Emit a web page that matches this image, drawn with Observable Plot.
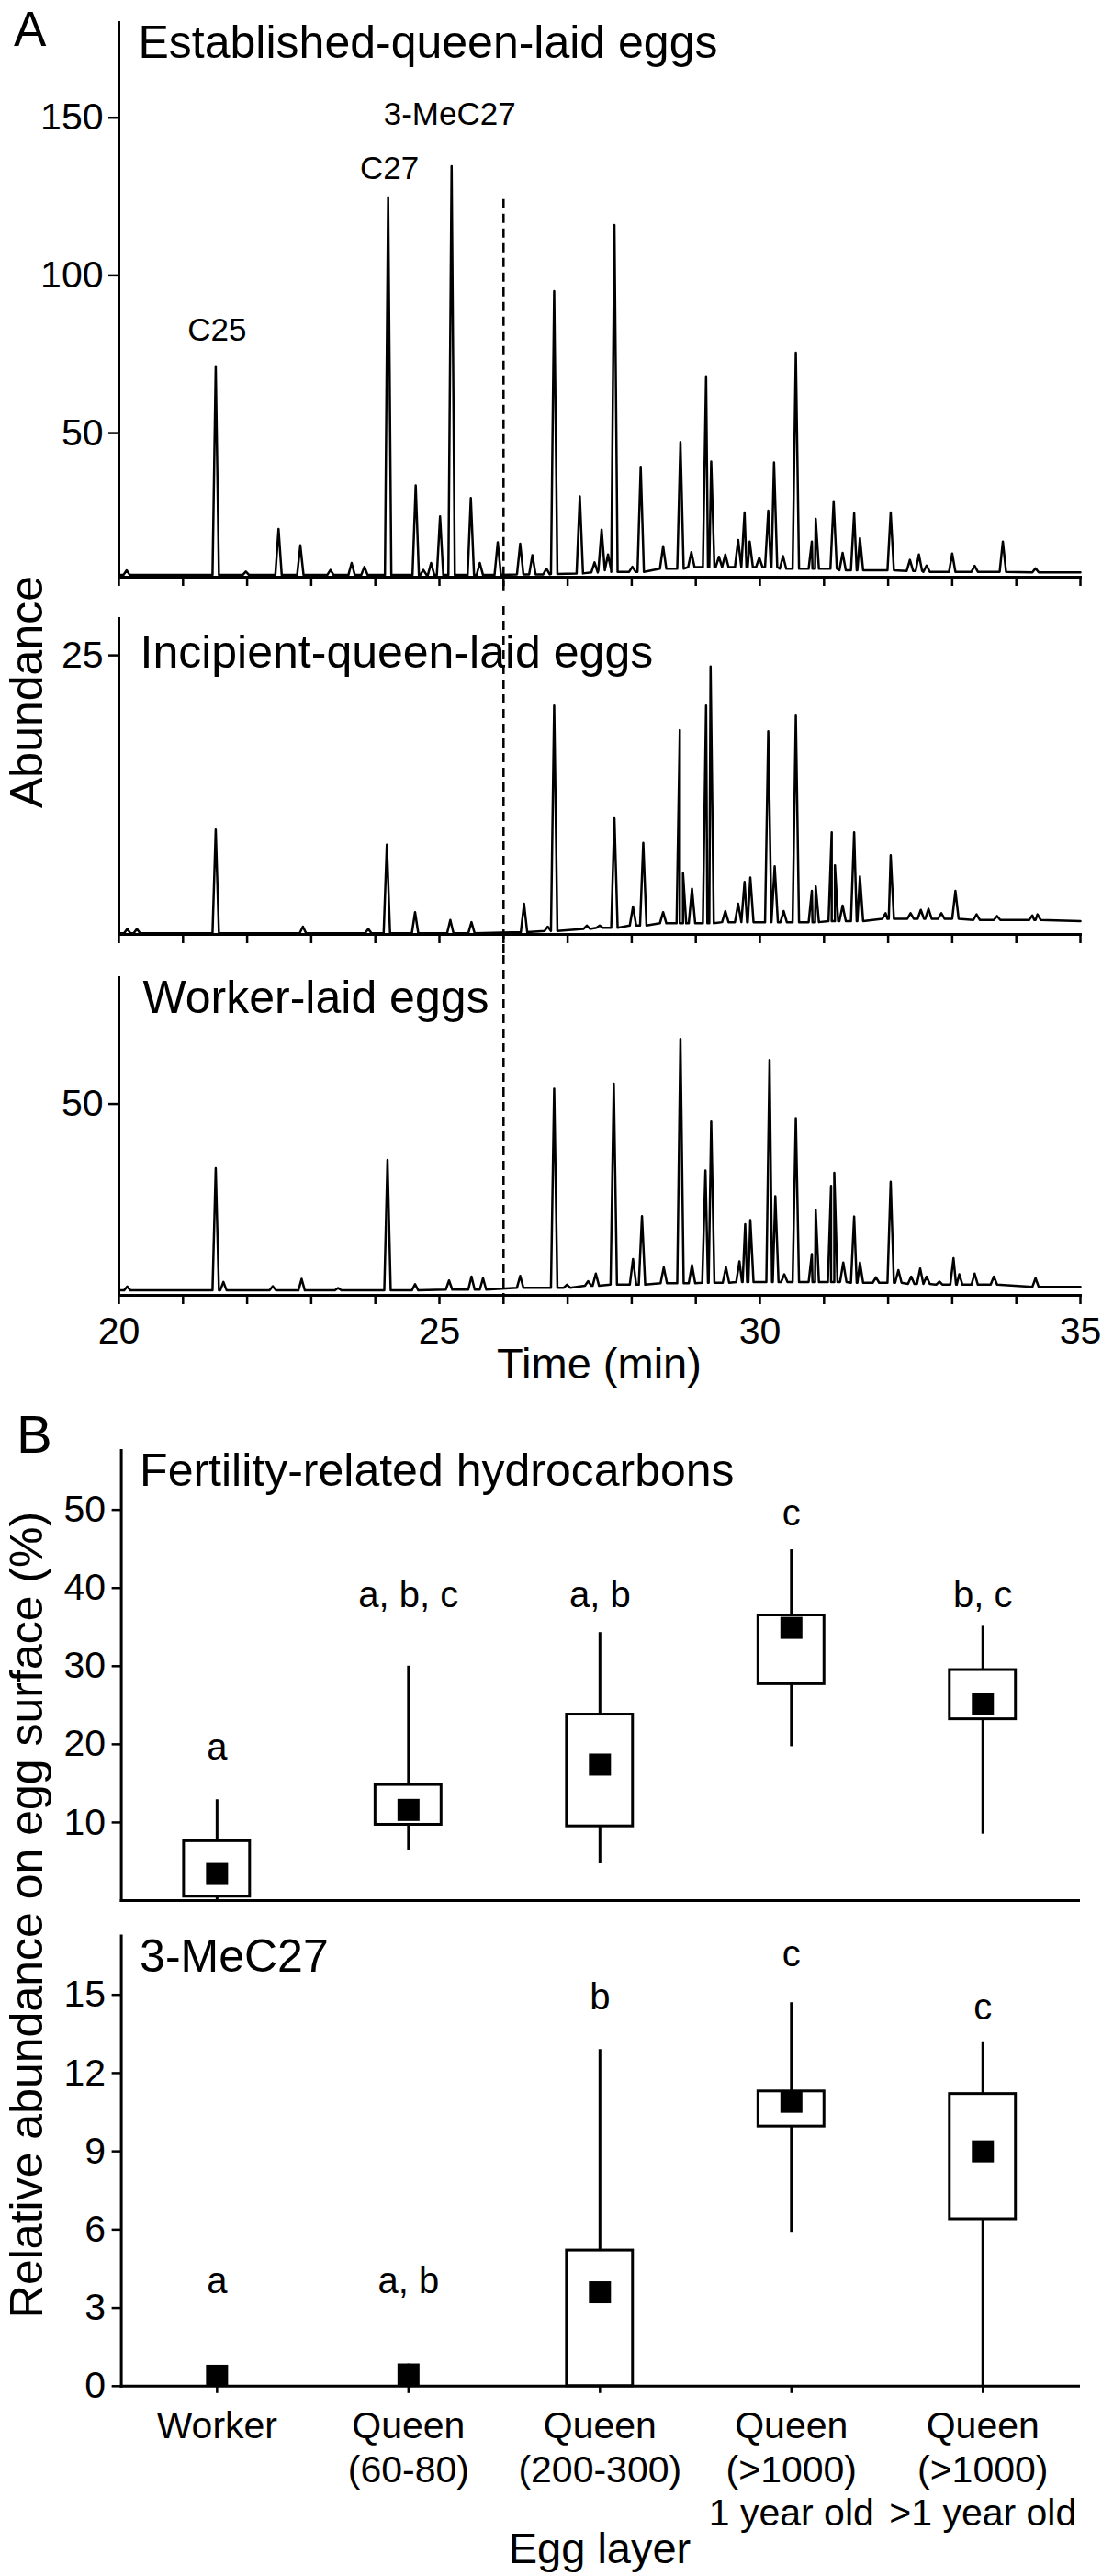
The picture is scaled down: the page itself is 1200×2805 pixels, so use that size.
<!DOCTYPE html>
<html><head><meta charset="utf-8">
<script src="https://cdn.jsdelivr.net/npm/d3@7"></script>
<script src="https://cdn.jsdelivr.net/npm/@observablehq/plot@0.6"></script>
<style>
body{margin:0;background:#fff}
#fig{position:relative;width:1200px;height:2805px;background:#fff;overflow:hidden;color:#000}
#fig svg{position:absolute;left:0}
</style>
</head><body><div id="fig"></div>
<script>
const FONT = '"Liberation Sans", Arial, Helvetica, sans-serif';

// ---------- Panel A: chromatograms ----------
const timeDomain = [20, 35];
const minuteTicks = [20,21,22,23,24,25,26,27,28,29,30,31,32,33,34,35];
const timeTickLabels = [20,25,30,35];
const dashedTime = [26];
const chromTitles = ["Established-queen-laid eggs","Incipient-queen-laid eggs","Worker-laid eggs"];
const peakNames = ["C25","C27","3-MeC27"];
const peakNameTimes = [21.53, 24.22, 25.16];
const peakNameLevels = [79.4, 130.5, 147.8];

// [time (min), apex abundance, local baseline]
const established = [
[20.12,6.5,5.0],[21.51,71.2,5.0],[21.98,6.1,5.0],[22.49,19.6,5.0],[22.83,14.4,5.0],[23.30,6.6,5.0],
[23.63,8.8,5.0],[23.83,7.6,5.0],[24.20,124.8,5.0],[24.63,33.4,5.0],[24.75,6.6,5.0],[24.87,8.8,5.0],
[25.01,23.6,5.0],[25.19,134.6,5.0],[25.49,29.4,5.0],[25.63,8.8,5.0],[25.91,15.4,5.0],[26.26,14.9,5.2],
[26.45,11.3,5.2],[26.67,7.0,5.2],[26.79,95.0,5.3],[27.19,29.9,5.5],[27.42,9.0,5.8],[27.53,19.4,6.5],
[27.63,11.5,6.5],[27.73,116.0,6.0],[28.01,7.6,6.0],[28.14,39.3,6.0],[28.49,14.1,7.0],[28.76,47.2,7.0],
[28.93,12.2,7.5],[29.16,68.0,7.5],[29.24,41.0,7.5],[29.36,10.8,7.5],[29.46,11.5,7.5],[29.66,16.1,7.5],
[29.76,24.8,7.5],[29.84,15.6,7.5],[29.99,10.5,7.5],[30.13,25.4,7.5],[30.22,40.7,7.5],[30.36,11.0,7.0],
[30.56,75.5,7.0],[30.81,15.6,7.0],[30.87,22.8,7.0],[31.15,28.4,7.0],[31.29,12.0,6.5],[31.47,24.6,6.5],
[31.56,16.7,6.5],[32.04,24.8,6.5],[32.34,9.8,6.3],[32.48,11.5,6.3],[32.60,8.0,6.0],[33.00,11.8,6.0],
[33.35,7.9,6.0],[33.79,15.6,6.0],[34.30,7.1,5.8]
];
const establishedEnds = [[20,5.0],[35,5.8]];

const incipient = [
[20.13,0.5,0.1],[20.28,0.5,0.1],[21.51,9.4,0.1],[22.87,0.7,0.1],[23.89,0.5,0.1],[24.18,8.05,0.1],
[24.62,2.0,0.1],[25.17,1.3,0.1],[25.50,1.1,0.1],[26.32,2.75,0.2],[26.69,0.7,0.3],[26.79,20.5,0.3],
[27.30,0.8,0.5],[27.50,0.8,0.6],[27.73,10.4,0.6],[28.02,2.5,0.8],[28.18,8.2,0.8],[28.49,2.0,1.0],
[28.75,18.3,1.0],[28.80,5.5,1.0],[28.94,4.1,1.0],[29.16,20.5,1.0],[29.23,24.0,1.0],[29.46,2.1,1.1],
[29.66,2.75,1.1],[29.76,4.7,1.1],[29.85,5.1,1.1],[30.13,18.2,1.1],[30.23,6.1,1.1],[30.37,2.1,1.1],
[30.56,19.6,1.1],[30.81,3.9,1.1],[30.87,4.3,1.1],[31.12,9.15,1.2],[31.17,6.2,1.2],[31.29,2.6,1.2],
[31.47,9.15,1.2],[31.56,5.2,1.2],[31.96,1.9,1.4],[32.04,7.1,1.4],[32.35,1.9,1.4],[32.51,2.2,1.4],
[32.63,2.3,1.4],[32.83,1.9,1.4],[33.05,3.9,1.4],[33.38,1.8,1.3],[33.70,1.65,1.3],[34.25,1.7,1.3],
[34.33,1.8,1.3]
];
const incipientEnds = [[20,0.1],[35,1.2]];

const workerLaid = [
[20.13,2.3,1.3],[21.51,33.2,1.3],[21.63,3.5,1.3],[22.40,2.4,1.3],[22.85,4.3,1.3],[23.42,1.9,1.3],
[24.19,35.4,1.3],[24.62,2.9,1.3],[25.15,3.9,1.5],[25.50,4.9,1.5],[25.68,4.5,1.5],[26.26,5.1,2.0],
[26.79,54.0,2.0],[26.99,2.8,2.0],[27.32,3.7,2.5],[27.44,5.7,2.5],[27.72,55.3,2.8],[28.02,9.5,2.8],
[28.16,20.7,2.8],[28.50,7.3,3.2],[28.76,67.0,3.2],[28.94,7.9,3.2],[29.15,32.6,3.3],[29.24,45.4,3.3],
[29.47,7.3,3.3],[29.68,8.9,3.5],[29.77,18.6,3.5],[29.85,19.7,3.5],[30.15,61.5,3.5],[30.24,25.9,3.5],
[30.38,5.5,3.5],[30.56,46.3,3.5],[30.81,10.8,3.5],[30.87,22.3,3.5],[31.11,28.6,3.5],[31.16,32.0,3.5],
[31.30,8.6,3.5],[31.47,20.6,3.3],[31.56,8.6,3.3],[31.81,4.7,3.3],[32.04,29.7,3.3],[32.16,6.6,3.3],
[32.36,4.9,3.0],[32.50,7.0,3.0],[32.60,4.9,3.0],[32.80,3.6,2.8],[33.02,9.7,2.8],[33.11,5.5,2.8],
[33.35,5.7,2.8],[33.65,4.9,2.8],[34.30,4.5,2.2]
];
const workerLaidEnds = [[20,1.3],[35,2.2]];

const establishedTicks = [50,100,150];
const incipientTicks = [25];
const workerLaidTicks = [50];

// ---------- Panel B: box plots ----------
const eggLayers = ["Worker","Queen (60-80)","Queen (200-300)","Queen (>1000) 1 year old","Queen (>1000) >1 year old"];
const eggLayerTickLabels = ["Worker","Queen\n(60-80)","Queen\n(200-300)","Queen\n(>1000)\n1 year old","Queen\n(>1000)\n>1 year old"];
const fertTitle = "Fertility-related hydrocarbons";
const fertLow = [0, 6.4, 4.7, 19.7, 8.5];
const fertQ1 = [0.5, 9.7, 9.5, 27.7, 23.2];
const fertMedian = [3.4, 11.6, 17.4, 34.9, 25.2];
const fertQ3 = [7.6, 14.8, 23.8, 36.5, 29.5];
const fertHigh = [12.9, 30.0, 34.3, 44.9, 35.1];
const fertLetters = ["a","a, b, c","a, b","c","b, c"];
const fertLetterLevels = [18.0, 37.6, 37.6, 48.0, 37.6];
const fertTicks = [10,20,30,40,50];

const meTitle = "3-MeC27";
const meLow = [0, 0, 0, 5.9, 0];
const meQ1 = [0, 0, 0, 9.95, 6.4];
const meMedian = [0.4, 0.45, 3.6, 10.9, 9.0];
const meQ3 = [0, 0, 5.2, 11.3, 11.2];
const meHigh = [0.6, 0.85, 12.9, 14.7, 13.2];
const meLetters = ["a","a, b","b","c","c"];
const meLetterLevels = [3.55, 3.55, 14.45, 16.1, 14.05];
const meTicks = [0,3,6,9,12,15];

// ---------- helpers ----------
const HALF = 0.05; // peak half-width in minutes
function trace(peaks, ends) {
  const pts = [{t: ends[0][0], a: ends[0][1]}];
  peaks.forEach(([t, h, b]) => pts.push({t: t - HALF, a: b}, {t, a: h}, {t: t + HALF, a: b}));
  pts.push({t: ends[1][0], a: ends[1][1]});
  return pts.sort((p, q) => p.t - q.t);
}
const fig = document.getElementById("fig");
function place(svg, top) { svg.style.top = top + "px"; fig.appendChild(svg); }
const baseStyle = {background: "transparent", overflow: "visible", fontFamily: FONT, color: "black"};
const dash = {stroke: "black", strokeWidth: 2.5, strokeDasharray: "10,6"};

function chrom({peaks, ends, yDomain, yTicks, height, mt, mb, title, tdx, tdy, withLabels, ruleOpts, extra = []}) {
  return Plot.plot({
    width: 1200, height, marginLeft: 129, marginRight: 24, marginTop: mt, marginBottom: mb,
    style: baseStyle,
    x: {domain: timeDomain},
    y: {domain: yDomain},
    marks: [
      Plot.axisX({ticks: minuteTicks, tickSize: 10, strokeWidth: 2.5, fontSize: 41, tickPadding: 13,
        tickFormat: withLabels ? (d => timeTickLabels.includes(d) ? String(d) : "") : (() => ""), label: null}),
      Plot.axisY({ticks: yTicks, tickSize: 11, tickPadding: 6, strokeWidth: 2.5, fontSize: 41, label: null}),
      Plot.ruleX(dashedTime, ruleOpts),
      Plot.line(trace(peaks, ends), {x: "t", y: "a", stroke: "black", strokeWidth: 2.5}),
      Plot.frame({anchor: "left", strokeWidth: 3}),
      Plot.frame({anchor: "bottom", strokeWidth: 3}),
      Plot.text([title], {frameAnchor: "top-left", dx: tdx, dy: tdy, lineAnchor: "top", textAnchor: "start", fontSize: 50}),
      ...extra
    ]
  });
}

// Panel A1
const topPeak = d3.max(established, d => d[1]);
place(chrom({
  peaks: established, ends: establishedEnds, yDomain: [4.3, 180.2], yTicks: establishedTicks,
  height: 660, mt: 24, mb: 32, title: chromTitles[0], tdx: 21, tdy: 3, withLabels: false,
  ruleOpts: {...dash, y1: topPeak, insetBottom: -32},
  extra: [Plot.text(peakNames, {x: (d, i) => peakNameTimes[i], y: (d, i) => peakNameLevels[i], text: d => d,
    lineAnchor: "bottom", fontSize: 35})]
}), 0);
// Panel A2
place(chrom({
  peaks: incipient, ends: incipientEnds, yDomain: [0, 28.3], yTicks: incipientTicks,
  height: 380, mt: 13, mb: 23, title: chromTitles[1], tdx: 23, tdy: 18, withLabels: false,
  ruleOpts: {...dash, insetTop: -13, insetBottom: -23}
}), 660);
// Panel A3
place(chrom({
  peaks: workerLaid, ends: workerLaidEnds, yDomain: [0, 83], yTicks: workerLaidTicks,
  height: 440, mt: 24, mb: 70, title: chromTitles[2], tdx: 26, tdy: 3, withLabels: true,
  ruleOpts: {...dash, insetTop: -24}
}), 1040);

// Panel B
function boxes({low, q1, med, q3, high, letters, levels}) {
  return eggLayers.map((c, i) => ({c, lo: low[i], q1: q1[i], med: med[i], q3: q3[i], hi: high[i], letter: letters[i], lv: levels[i]}));
}
function boxPlot({data, yDomain, yTicks, height, mt, mb, title, withX}) {
  return Plot.plot({
    width: 1200, height, marginLeft: 131.6, marginRight: 26, marginTop: mt, marginBottom: mb,
    style: baseStyle,
    x: {domain: eggLayers, paddingInner: 0.655, paddingOuter: 0.3275, align: 0.5, round: false, axis: null},
    y: {domain: yDomain},
    marks: [
      Plot.axisY({ticks: yTicks, tickSize: 10, tickPadding: 7, strokeWidth: 2.5, fontSize: 41, label: null}),
      withX ? Plot.axisX({tickSize: 8, tickPadding: 15, strokeWidth: 2.5, fontSize: 41, lineHeight: 1.16,
        tickFormat: d => eggLayerTickLabels[eggLayers.indexOf(d)], label: null}) : null,
      Plot.ruleX(data, {x: "c", y1: "lo", y2: "hi", stroke: "black", strokeWidth: 3}),
      Plot.barY(data, {x: "c", y1: "q1", y2: "q3", fill: "white", stroke: "black", strokeWidth: 3}),
      Plot.dot(data, {x: "c", y: "med", symbol: "square", r: 13.54, fill: "black"}),
      Plot.text(data, {x: "c", y: "lv", text: "letter", lineAnchor: "bottom", fontSize: 40}),
      Plot.frame({anchor: "left", strokeWidth: 3}),
      Plot.frame({anchor: "bottom", strokeWidth: 3}),
      Plot.text([title], {frameAnchor: "top-left", dx: 20, dy: 3, lineAnchor: "top", textAnchor: "start", fontSize: 50})
    ]
  });
}
place(boxPlot({
  data: boxes({low: fertLow, q1: fertQ1, med: fertMedian, q3: fertQ3, high: fertHigh, letters: fertLetters, levels: fertLetterLevels}),
  yDomain: [0, 57.6], yTicks: fertTicks, height: 545, mt: 39, mb: 16, title: fertTitle, withX: false
}), 1540);
place(boxPlot({
  data: boxes({low: meLow, q1: meQ1, med: meMedian, q3: meQ3, high: meHigh, letters: meLetters, levels: meLetterLevels}),
  yDomain: [0, 17.26], yTicks: meTicks, height: 720, mt: 22.5, mb: 207.2, title: meTitle, withX: true
}), 2085);

// ---------- figure labels ----------
const ns = "http://www.w3.org/2000/svg";
const over = document.createElementNS(ns, "svg");
over.setAttribute("width", 1200); over.setAttribute("height", 2805);
over.style.top = "0px"; over.style.pointerEvents = "none";
const figLabels = [
  {text: "A", x: 15, y: 50, size: 53, anchor: "start"},
  {text: "Abundance", x: 46, y: 753.5, size: 50, anchor: "middle", rotate: true},
  {text: "Time (min)", x: 652.5, y: 1501, size: 47, anchor: "middle"},
  {text: "B", x: 18, y: 1582, size: 58, anchor: "start"},
  {text: "Relative abundance on egg surface (%)", x: 46, y: 2085, size: 50, anchor: "middle", rotate: true},
  {text: "Egg layer", x: 653, y: 2791, size: 47, anchor: "middle"}
];
figLabels.forEach(l => {
  const t = document.createElementNS(ns, "text");
  t.textContent = l.text;
  t.setAttribute("font-family", FONT);
  t.setAttribute("font-size", l.size);
  t.setAttribute("text-anchor", l.anchor);
  t.setAttribute("fill", "black");
  if (l.rotate) t.setAttribute("transform", `translate(${l.x},${l.y}) rotate(-90)`);
  else { t.setAttribute("x", l.x); t.setAttribute("y", l.y); }
  over.appendChild(t);
});
fig.appendChild(over);
</script></body></html>
